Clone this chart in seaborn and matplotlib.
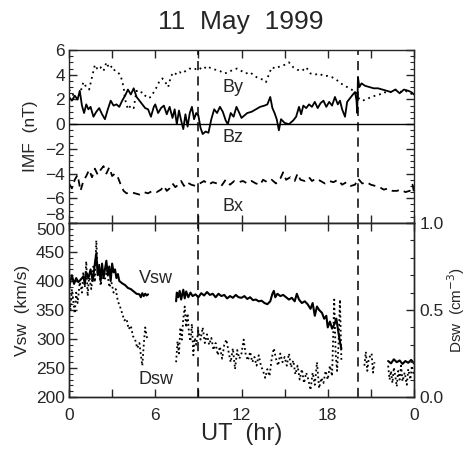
import numpy as np
import pandas as pd
import matplotlib
matplotlib.use("Agg")
import matplotlib.pyplot as plt
from matplotlib.ticker import MultipleLocator, FuncFormatter
import seaborn as sns

#------------------------------ Data ------------------------------
title = "11  May  1999"
event_hours = [9.0, 20.1]

bz_t = [0.0, 0.2, 0.4, 0.6, 0.75, 0.9, 1.05, 1.2, 1.35, 1.5, 1.7, 1.9, 2.1, 2.3, 2.5, 2.7, 2.9, 3.1,
        3.3, 3.5, 3.7, 3.9, 4.1, 4.3, 4.5, 4.7, 4.9, 5.1, 5.3, 5.5, 5.7, 5.9, 6.0, 6.2, 6.4, 6.6, 6.8,
        7.0, 7.2, 7.35, 7.5, 7.65, 7.8, 7.95, 8.1, 8.25, 8.4, 8.55, 8.7, 8.85, 9.0, 9.15, 9.3, 9.5,
        9.7, 9.9, 10.1, 10.3, 10.5, 10.7, 10.9, 11.05, 11.25, 11.45, 11.65, 11.85, 12.0, 12.2, 12.4,
        12.7, 13.0, 13.3, 13.6, 13.8, 14.0, 14.15, 14.3, 14.45, 14.6, 14.75, 15.0, 15.3, 15.6, 15.8,
        16.0, 16.15, 16.3, 16.5, 16.7, 16.9, 17.1, 17.3, 17.5, 17.7, 17.9, 18.1, 18.3, 18.5, 18.7,
        18.85, 19.0, 19.2, 19.35, 19.55, 19.75, 19.9, 20.0, 20.05, 20.1, 20.2, 20.35, 20.6, 20.9,
        21.2, 21.5, 21.8, 22.1, 22.4, 22.7, 23.0, 23.3, 23.6, 23.8, 24.0]
bz = [2.2, 1.9, 2.3, 2.0, 2.7, 1.5, 0.9, 1.6, 1.2, 1.4, 0.6, 1.0, 1.3, 0.8, 0.4, 1.2, 1.9, 1.5,
      1.6, 1.4, 1.9, 2.3, 2.8, 2.4, 2.9, 2.2, 1.9, 1.6, 1.3, 1.2, 0.6, 1.4, 1.6, 0.9, 1.3, 1.5, 0.8,
      1.4, 0.5, 1.2, 0.0, 1.1, 0.3, -0.4, 0.8, -0.2, 0.9, 1.4, 0.4, 0.9, 0.7, -0.3, -0.8, -0.6,
      -0.7, 0.4, 1.2, 0.9, 1.4, 1.0, 0.3, 0.0, 0.9, 0.6, 1.4, 0.9, 0.5, 0.7, 0.9,
      1.0, 1.2, 1.4, 1.5, 1.6, 2.2, 1.3, 0.9, 0.4, -0.5, 0.4, 0.1, 0.0, 0.3, 0.6,
      1.4, 0.8, 1.5, 1.3, 1.6, 1.4, 1.8, 1.3, 1.7, 1.9, 1.4, 1.8, 1.5, 2.2, 1.6,
      1.9, 1.2, 0.6, 1.8, 2.1, 2.4, 2.6, 1.9, 0.9, 3.8, 3.0, 3.3, 3.1, 3.0,
      2.9, 2.9, 2.8, 2.7, 2.6, 2.8, 2.5, 2.8, 2.7, 2.6, 2.4]

by_t = [0.0, 0.2, 0.4, 0.6, 0.8, 1.0, 1.2, 1.4, 1.6, 1.8, 2.0, 2.2, 2.4, 2.6, 2.8, 3.0, 3.2, 3.4,
        3.6, 3.8, 3.9, 4.1, 4.3, 4.5, 4.7, 4.9, 5.1, 5.3, 5.5, 5.7, 5.9, 6.1, 6.3, 6.5, 6.7, 6.9,
        7.1, 7.3, 7.5, 7.7, 7.9, 8.1, 8.4, 8.7, 9.0, 9.3, 9.6, 9.9, 10.2, 10.5, 10.8, 11.1, 11.4,
        11.7, 12.0, 12.3, 12.6, 12.9, 13.2, 13.5, 13.7, 13.9, 14.1, 14.4, 14.7, 15.0, 15.3, 15.6,
        15.9, 16.2, 16.5, 16.8, 17.1, 17.4, 17.7, 18.0, 18.3, 18.6, 18.9, 19.2, 19.5, 19.8, 20.0,
        20.2, 20.4, 20.7, 21.0, 21.3, 21.6, 21.9, 22.2, 22.5, 22.8, 23.1, 23.4, 23.7, 24.0]
by = [2.8, 2.5, 2.2, 2.0, 2.6, 3.4, 3.0, 2.8, 3.8, 4.8, 4.4, 4.6, 4.3, 5.0, 4.5, 4.7, 4.3, 4.2,
      3.9, 3.0, 2.0, 1.2, 1.5, 1.3, 2.7, 2.5, 2.6, 2.3, 2.1, 2.2, 2.6, 3.0, 3.5, 3.7, 3.4, 3.0,
      3.9, 4.2, 4.0, 4.2, 4.1, 4.3, 4.5, 4.4, 4.6, 4.4, 4.7, 4.5, 4.4, 4.3, 4.1, 4.2, 4.4,
      4.5, 4.3, 4.1, 4.2, 3.9, 3.7, 3.6, 3.4, 4.0, 4.6, 4.5, 4.7, 4.8, 5.0, 4.6,
      4.4, 4.3, 4.6, 4.1, 4.0, 4.1, 3.9, 3.9, 3.8, 3.6, 3.3, 3.1, 2.9, 2.7, 2.5,
      2.0, 1.9, 2.0, 2.2, 2.3, 2.4, 2.6, 2.5, 2.7, 2.8, 2.6, 2.7, 2.5, 2.4]

bx_t = [0.0, 0.2, 0.4, 0.6, 0.8, 1.0, 1.2, 1.4, 1.6, 1.8, 2.0, 2.2, 2.4, 2.6, 2.8, 3.0, 3.2, 3.4,
        3.6, 3.8, 4.0, 4.3, 4.6, 4.9, 5.2, 5.5, 5.8, 6.1, 6.4, 6.6, 6.8, 7.0, 7.2, 7.4, 7.6, 7.8,
        8.0, 8.2, 8.5, 8.8, 9.1, 9.4, 9.7, 10.0, 10.3, 10.6, 10.9, 11.2, 11.5, 11.8, 12.1, 12.4,
        12.7, 13.0, 13.3, 13.5, 13.8, 14.1, 14.4, 14.7, 14.9, 15.1, 15.4, 15.7, 15.9, 16.1, 16.4,
        16.7, 16.9, 17.2, 17.5, 17.8, 18.1, 18.4, 18.7, 19.0, 19.3, 19.6, 19.9, 20.1, 20.4, 20.7,
        21.0, 21.3, 21.6, 21.9, 22.2, 22.5, 22.8, 23.1, 23.4, 23.7, 23.9, 24.0]
bx = [-4.8, -5.2, -4.5, -4.1, -5.4, -4.6, -4.2, -3.7, -4.3, -3.6, -4.1, -3.7, -3.4, -4.0, -3.5, -4.2, -4.0, -4.3,
      -4.9, -5.4, -5.6, -5.5, -5.6, -5.7, -5.5, -5.6, -5.4, -5.5, -5.3, -5.0, -5.4, -5.2, -4.8, -5.1, -4.9, -4.6,
      -5.0, -4.7, -4.9, -5.0, -4.8, -4.6, -4.9, -4.7, -4.8, -5.0, -4.5, -4.9, -4.6, -4.7, -4.6, -4.8,
      -4.6, -4.8, -4.9, -4.5, -4.7, -4.5, -4.8, -4.4, -3.9, -4.5, -4.3, -4.6, -4.0, -4.5, -4.6,
      -4.3, -4.6, -4.4, -4.6, -4.8, -4.6, -4.7, -4.5, -4.9, -4.7, -5.0, -4.9, -4.4, -4.8, -4.7,
      -4.9, -5.0, -5.1, -5.3, -5.2, -5.4, -5.4, -5.3, -5.5, -5.4, -4.9, -5.5]

# solar wind speed (km/s), three data segments
vsw_t1 = [0.0, 0.1, 0.2, 0.35, 0.5, 0.65, 0.8, 1.0, 1.1, 1.2, 1.35, 1.5, 1.65, 1.8, 1.9, 2.0, 2.1,
          2.2, 2.3, 2.4, 2.5, 2.6, 2.7, 2.8, 2.9, 3.0, 3.1, 3.2, 3.3, 3.4, 3.5, 3.7, 3.9, 4.1, 4.3,
          4.5, 4.7, 4.9, 5.0, 5.1, 5.2, 5.3, 5.4, 5.5]
vsw_1 = [385, 400, 410, 395, 405, 398, 402, 408, 395, 415, 405, 420, 400, 430, 448, 410, 425,
         400, 430, 405, 420, 435, 410, 425, 400, 430, 415, 420, 405, 412, 400, 396, 393, 388, 386,
         382, 378, 377, 372, 379, 374, 378, 375, 377]
vsw_t2 = [7.45, 7.5, 7.6, 7.7, 7.8, 7.95, 8.05, 8.15, 8.3, 8.45, 8.6, 8.8, 9.0, 9.2, 9.4, 9.6, 9.8,
          10.0, 10.2, 10.4, 10.6, 10.8, 11.0, 11.2, 11.4, 11.6, 11.8, 12.0, 12.2, 12.4, 12.6, 12.8,
          13.0, 13.2, 13.4, 13.6, 13.8, 14.0, 14.15, 14.25, 14.35, 14.5, 14.7, 14.9, 15.1, 15.3,
          15.5, 15.7, 15.85, 16.0, 16.2, 16.4, 16.6, 16.8, 16.95, 17.1, 17.25, 17.4, 17.6, 17.75,
          17.9, 18.0, 18.15, 18.3, 18.45, 18.6, 18.75, 18.85, 18.95]
vsw_2 = [365, 380, 372, 383, 368, 385, 370, 382, 372, 380, 374, 377, 372, 379, 375, 381, 376,
         378, 372, 378, 374, 376, 370, 374, 371, 376, 372, 371, 374, 369, 372, 367,
         368, 365, 366, 362, 360, 365, 378, 383, 372, 378, 374, 376, 372, 368,
         371, 365, 378, 368, 362, 365, 360, 352, 362, 340, 356, 350, 345, 335,
         340, 320, 330, 318, 325, 335, 310, 295, 283]
vsw_t3 = [22.2, 22.4, 22.6, 22.8, 23.0, 23.2, 23.4, 23.6, 23.8, 24.0]
vsw_3 = [262, 258, 265, 260, 263, 257, 262, 259, 264, 258]

# solar wind density (cm^-3), four data segments
dsw_t1 = [0.0, 0.1, 0.2, 0.3, 0.4, 0.5, 0.6, 0.75, 0.9, 1.0, 1.1, 1.2, 1.3, 1.4, 1.55, 1.7, 1.8,
          1.9, 2.0, 2.1, 2.2, 2.35, 2.5, 2.65, 2.8, 2.95, 3.1, 3.25, 3.4, 3.55, 3.7, 3.85, 4.0,
          4.15, 4.3, 4.45, 4.6, 4.75, 4.9, 5.0, 5.1, 5.2, 5.3, 5.45]
dsw_1 = [0.58, 0.50, 0.62, 0.55, 0.48, 0.60, 0.54, 0.66, 0.60, 0.72, 0.63, 0.78, 0.58, 0.70, 0.62, 0.75, 0.66,
         0.90, 0.70, 0.76, 0.64, 0.72, 0.68, 0.73, 0.63, 0.66, 0.60, 0.62, 0.55, 0.52, 0.48, 0.44, 0.45,
         0.39, 0.41, 0.35, 0.33, 0.28, 0.31, 0.24, 0.18, 0.30, 0.40, 0.33]
dsw_t2 = [7.45, 7.55, 7.65, 7.75, 7.85, 7.95, 8.05, 8.15, 8.25, 8.35, 8.45, 8.55, 8.65, 8.75, 8.85,
          9.0, 9.15, 9.3, 9.45, 9.6, 9.75, 9.9, 10.05, 10.2, 10.35, 10.5, 10.65, 10.8, 10.95, 11.1,
          11.25, 11.4, 11.55, 11.7, 11.85, 12.0, 12.15, 12.3, 12.45, 12.6, 12.75, 12.9, 13.05, 13.2,
          13.35, 13.5, 13.65, 13.8, 13.95, 14.1, 14.25, 14.4, 14.55, 14.7, 14.85, 15.0, 15.15, 15.3,
          15.45, 15.6, 15.75, 15.9, 16.05, 16.2, 16.35, 16.5, 16.65, 16.8, 16.95, 17.1, 17.25, 17.4,
          17.55, 17.7, 17.85, 18.0, 18.15, 18.3, 18.45, 18.55, 18.65, 18.75, 18.85, 18.95]
dsw_2 = [0.20, 0.32, 0.25, 0.40, 0.33, 0.45, 0.52, 0.40, 0.48, 0.36, 0.32, 0.42, 0.24, 0.34, 0.30,
         0.38, 0.33, 0.40, 0.31, 0.36, 0.30, 0.34, 0.27, 0.31, 0.24, 0.29, 0.22, 0.30, 0.33, 0.26,
         0.20, 0.28, 0.16, 0.27, 0.22, 0.25, 0.33, 0.24, 0.21, 0.26, 0.20, 0.23, 0.18, 0.24,
         0.18, 0.15, 0.11, 0.16, 0.12, 0.22, 0.28, 0.22, 0.18, 0.25, 0.20, 0.23, 0.18, 0.25,
         0.17, 0.21, 0.13, 0.18, 0.10, 0.16, 0.08, 0.14, 0.10, 0.04, 0.14, 0.07, 0.20, 0.05,
         0.11, 0.08, 0.15, 0.10, 0.18, 0.12, 0.56, 0.25, 0.15, 0.30, 0.56, 0.20]
dsw_t3 = [20.55, 20.65, 20.75, 20.85, 21.05, 21.15, 21.25]
dsw_3 = [0.18, 0.26, 0.15, 0.22, 0.25, 0.14, 0.20]
dsw_t4 = [22.2, 22.3, 22.4, 22.5, 22.6, 22.7, 22.8, 22.9, 23.0, 23.1, 23.2, 23.35, 23.5, 23.6,
          23.75, 23.85, 24.0]
dsw_4 = [0.18, 0.10, 0.15, 0.08, 0.17, 0.12, 0.06, 0.15, 0.10, 0.18, 0.09, 0.14, 0.07, 0.16,
         0.10, 0.18, 0.12]

imf_ticks = [-8, -6, -4, -2, 0, 2, 4, 6]
vsw_ticks = [200, 250, 300, 350, 400, 450, 500]
dsw_ticks = [0.0, 0.5, 1.0]

#------------------------------ Frames ------------------------------
imf = pd.concat([
    pd.DataFrame({"UT": bz_t, "B": bz, "comp": "Bz"}),
    pd.DataFrame({"UT": by_t, "B": by, "comp": "By"}),
    pd.DataFrame({"UT": bx_t, "B": bx, "comp": "Bx"}),
])
vsw = pd.concat([pd.DataFrame({"UT": t, "V": v, "seg": i})
                 for i, (t, v) in enumerate([(vsw_t1, vsw_1), (vsw_t2, vsw_2), (vsw_t3, vsw_3)])])
dsw = pd.concat([pd.DataFrame({"UT": t, "D": d, "seg": i})
                 for i, (t, d) in enumerate([(dsw_t1, dsw_1), (dsw_t2, dsw_2),
                                             (dsw_t3, dsw_3), (dsw_t4, dsw_4)])])

#------------------------------ Plot ------------------------------
sns.set_style("ticks")
plt.rcParams["font.family"] = ["Liberation Sans", "DejaVu Sans"]
plt.rcParams["axes.linewidth"] = 1.0

W, H = 467, 451
fig = plt.figure(figsize=(W / 100, H / 100), dpi=100)
ax1 = fig.add_axes([69 / W, 1 - 223 / H, 345 / W, 173 / H])
ax2 = fig.add_axes([69 / W, 1 - 397 / H, 345 / W, 174 / H])
ax3 = ax2.twinx()

styles = {"Bz": "-", "By": (0, (1, 2.2)), "Bx": (0, (4, 3))}
for comp, ls in styles.items():
    sns.lineplot(data=imf[imf.comp == comp], x="UT", y="B", ax=ax1, color="black",
                 linestyle=ls, linewidth=1.3, estimator=None, sort=False, legend=False)
ax1.axhline(0, color="black", linewidth=1.0)

sns.lineplot(data=vsw, x="UT", y="V", units="seg", estimator=None, sort=False, ax=ax2,
             color="black", linewidth=1.5, legend=False)
sns.lineplot(data=dsw, x="UT", y="D", units="seg", estimator=None, sort=False, ax=ax3,
             color="black", linewidth=1.3, linestyle=(0, (1, 1.6)), legend=False)

for ax in (ax1, ax2):
    for h in event_hours:
        ax.axvline(h, color="black", linewidth=1.1, linestyle=(0, (6, 4)))

ax1.set_xlim(0, 24)
ax1.set_ylim(-8, 6)
ax2.set_xlim(0, 24)
ax2.set_ylim(200, 500)
ax3.set_ylim(0, 1.0)

hour_fmt = FuncFormatter(lambda v, p: "" if v % 6 else str(int(v) % 24))
for ax in (ax1, ax2):
    ax.xaxis.set_major_locator(MultipleLocator(3))
    ax.xaxis.set_major_formatter(hour_fmt)
ax1.tick_params(axis="x", labelbottom=False)

ax1.set_yticks(imf_ticks, [str(v).replace("-", "\u2212") for v in imf_ticks])
ax1.yaxis.set_minor_locator(MultipleLocator(0.5))
ax2.set_yticks(vsw_ticks, [str(v) for v in vsw_ticks])
ax2.yaxis.set_minor_locator(MultipleLocator(10))
ax3.set_yticks(dsw_ticks, [f"{v:.1f}" for v in dsw_ticks])
ax3.yaxis.set_minor_locator(MultipleLocator(0.1))

for ax in (ax1, ax2):
    ax.tick_params(which="both", direction="in", top=True, right=True, labelsize=12.5)
    ax.tick_params(which="major", length=6, width=1)
    ax.tick_params(which="minor", length=3, width=0.8)
    ax.tick_params(axis="y", pad=3)
    ax.tick_params(axis="x", pad=8)
ax2.tick_params(right=False, which="both")
ax3.tick_params(which="both", direction="in", labelsize=12.5, pad=4)
ax3.tick_params(which="major", length=6, width=1)
ax3.tick_params(which="minor", length=3, width=0.8)

# the lowest IMF label and the top Vsw label share the panel border
ax1.get_yticklabels()[0].set_verticalalignment("bottom")
ax2.get_yticklabels()[-1].set_verticalalignment("top")

ax1.set_xlabel("")
ax1.set_ylabel("IMF  (nT)", fontsize=12.5, labelpad=5)
ax2.set_ylabel("Vsw  (km/s)", fontsize=12.5, labelpad=4)
ax3.set_ylabel("Dsw  (cm$^{-3}$)", fontsize=11, labelpad=1)
ax2.set_xlabel("UT  (hr)", fontsize=17, labelpad=0)

ax1.text(11.4, 3.0, "By", fontsize=13, ha="center", va="center")
ax1.text(11.4, -1.05, "Bz", fontsize=13, ha="center", va="center")
ax1.text(11.4, -6.7, "Bx", fontsize=13, ha="center", va="center")
ax2.text(6.05, 405, "Vsw", fontsize=13, ha="center", va="center")
ax2.text(6.05, 230, "Dsw", fontsize=13, ha="center", va="center")

fig.text(241 / W, 1 - 22 / H, title, fontsize=19, ha="center", va="center")

fig.savefig("out.png", dpi=100)
